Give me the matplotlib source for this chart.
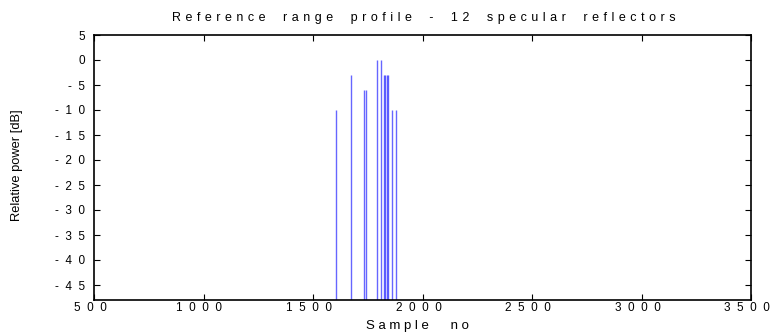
import matplotlib
matplotlib.use("Agg")
import matplotlib.pyplot as plt
import matplotlib.transforms as mtransforms
from matplotlib.ticker import FixedLocator, FuncFormatter

plt.rcParams['font.family'] = ['Liberation Sans', 'DejaVu Sans']

# Data: sample positions and relative power (dB) of the 12 specular reflectors
sample_no = [1604, 1673, 1735, 1741, 1793, 1811, 1825, 1830, 1836, 1843, 1862, 1878]
power_db = [-10, -3, -6, -6, 0, 0, -3, -3, -3, -3, -10, -10]

x_ticks = [500, 1000, 1500, 2000, 2500, 3000, 3500]
y_ticks = [5, 0, -5, -10, -15, -20, -25, -30, -35, -40, -45]

title = "Reference range profile - 12 specular reflectors"
xlabel = "Sample no"
ylabel = "Relative power [dB]"


def spaced(s, letter_gap=" ", word_gap="   "):
    return word_gap.join(letter_gap.join(w) for w in s.split(" "))


def tick_fmt(v, pos):
    return "  ".join(str(int(round(v))))


W, H = 771, 336
fig = plt.figure(figsize=(W / 100, H / 100), dpi=100)
ax = fig.add_axes([94 / W, 1 - 300 / H, (751 - 94) / W, (300 - 35) / H])

ymin = -48
ax.vlines(sample_no, ymin, power_db, colors='#0000ff', alpha=0.6, linewidth=1.0)

ax.set_xlim(500, 3500)
ax.set_ylim(ymin, 5)
ax.xaxis.set_major_locator(FixedLocator(x_ticks))
ax.yaxis.set_major_locator(FixedLocator(y_ticks))
ax.xaxis.set_major_formatter(FuncFormatter(tick_fmt))
ax.yaxis.set_major_formatter(FuncFormatter(tick_fmt))
ax.tick_params(direction='in', length=4, width=0.8, labelsize=8.5, top=True, right=True,
               colors='black')
ax.tick_params(axis='x', pad=1.5)
ax.tick_params(axis='y', pad=6.5)
for s in ax.spines.values():
    s.set_linewidth(1.2)

shift = mtransforms.ScaledTranslation(-4 / 100, 0, fig.dpi_scale_trans)
for lab in ax.get_xticklabels():
    lab.set_transform(lab.get_transform() + shift)

fig.text(172 / W, 1 - 18 / H, spaced(title, " \u200a", "     "), fontsize=9, ha='left', va='center')
fig.text(417 / W, 1 - 326 / H, spaced(xlabel, " ", "      "), fontsize=9.5, ha='center', va='center')
fig.text(17 / W, 1 - 165 / H, ylabel, fontsize=9.3, ha='center', va='center', rotation=90)

fig.savefig("out.png", dpi=100)
